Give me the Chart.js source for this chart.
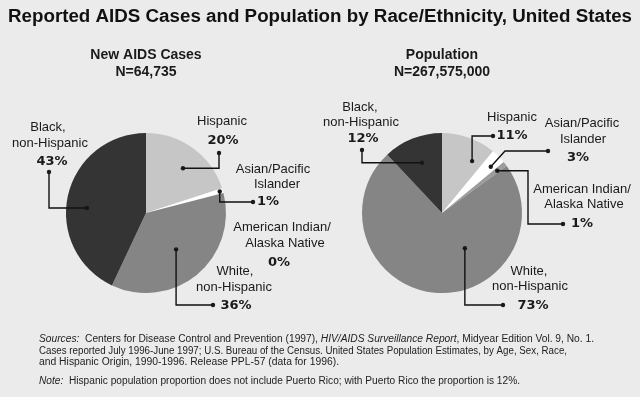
<!DOCTYPE html>
<html>
<head>
<meta charset="utf-8">
<script src="https://cdn.jsdelivr.net/npm/chart.js@4.4.1/dist/chart.umd.min.js"></script>
<style>
html, body { margin: 0; padding: 0; background: #ebebeb; }
#wrap { position: relative; width: 640px; height: 397px; overflow: hidden; }
#wrap canvas { position: absolute; left: 0; top: 0; }
</style>
</head>
<body>
<div id="wrap">
  <canvas id="casesChart" width="640" height="397"></canvas>
  <canvas id="popChart" width="640" height="397"></canvas>
</div>
<script>
// data
const groupLines = [['Hispanic'], ['Asian/Pacific', 'Islander'], ['American Indian/', 'Alaska Native'], ['White,', 'non-Hispanic'], ['Black,', 'non-Hispanic']];
const groups = groupLines.map(l => l.join(' '));
const casesPct = [20, 1, 0, 36, 43];
const popPct = [11, 3, 1, 73, 12];
const casesN = '64,735';
const popN = '267,575,000';

const casesColors = ['#c6c6c6', '#ffffff', '#9c9c9c', '#858585', '#343434'];
const popColors = ['#c6c6c6', '#ffffff', '#9c9c9c', '#858585', '#343434'];

const titleText = 'Reported AIDS Cases and Population by Race/Ethnicity, United States';
const footerLines = [
    [['Sources:', true], ['  Centers for Disease Control and Prevention (1997), ', false], ['HIV/AIDS Surveillance Report', true], [', Midyear Edition Vol. 9, No. 1.', false]],
    [['Cases reported July 1996-June 1997; U.S. Bureau of the Census. United States Population Estimates, by Age, Sex, Race,', false]],
    [['and Hispanic Origin, 1990-1996. Release PPL-57 (data for 1996).', false]],
    [['Note:', true], ['  Hispanic population proportion does not include Puerto Rico; with Puerto Rico the proportion is 12%.', false]]
];

// label placement (page pixels), leader anchors are taken from the arcs
const casesLayout = [
    { x: [222], y: [121], pct: [223, 141], t: 0.55, f: 0.725, route: [['h', 219], ['v', 153]] },
    { x: [273, 277], y: [169, 184], pct: [268, 202], t: 0.5, f: 0.96, route: [['v', 202], ['h', 253]] },
    { x: [282, 285], y: [227, 243], pct: [279, 263] },
    { x: [235, 234], y: [271, 287], pct: [236, 306], t: 0.5, f: 0.59, route: [['v', 305], ['h', 213]] },
    { x: [48, 50], y: [127, 143], pct: [52, 162], t: 0.45, f: 0.74, route: [['h', 49], ['v', 172]] }
];
const popLayout = [
    { x: [512], y: [117], pct: [512, 136], t: 0.76, f: 0.75, route: [['v', 136], ['h', 493]] },
    { x: [582, 583], y: [123, 139], pct: [578, 158], t: 0.64, f: 0.84, route: [['to', 505, 151], ['h', 548]] },
    { x: [582, 584], y: [189, 204], pct: [582, 224], t: 0.6, f: 0.87, route: [['h', 528], ['v', 224], ['h', 563]] },
    { x: [529, 530], y: [271, 286], pct: [533, 306], t: 0.354, f: 0.525, route: [['v', 305], ['h', 503]] },
    { x: [360, 361], y: [107, 122], pct: [363, 139], t: 0.5, f: 0.675, route: [['h', 362], ['v', 150]] }
];

const SANS = '"Liberation Sans", Arial, Helvetica, sans-serif';

function fillFit(ctx, text, x, y, width) {
    const s = width / ctx.measureText(text).width;
    ctx.save();
    ctx.translate(x, y);
    ctx.scale(s, 1);
    ctx.fillText(text, 0, 0);
    ctx.restore();
}

function dot(ctx, x, y) {
    ctx.beginPath();
    ctx.arc(x, y, 2.2, 0, Math.PI * 2);
    ctx.fill();
}

const pieLabels = {
    id: 'pieLabels',
    afterDatasetsDraw(chart, args, opts) {
        const ctx = chart.ctx;
        const meta = chart.getDatasetMeta(0);
        const values = chart.data.datasets[0].data;
        ctx.save();
        ctx.fillStyle = '#1a1a1a';
        ctx.strokeStyle = '#111';
        ctx.lineWidth = 1.4;
        ctx.textAlign = 'center';
        ctx.textBaseline = 'middle';

        // header above the pie
        const cx = meta.data[0].x;
        ctx.font = 'bold 14px ' + SANS;
        ctx.fillText(opts.header[0], cx, 55);
        ctx.fillText(opts.header[1], cx, 72);

        opts.layout.forEach(function(item, i) {
            ctx.font = '13px ' + SANS;
            groupLines[i].forEach(function(t, k) {
                ctx.fillText(t, item.x[k], item.y[k]);
            });
            ctx.font = 'bold 13px "DejaVu Sans", sans-serif';
            ctx.fillText(values[i] + '%', item.pct[0], item.pct[1]);
            if (!item.route) return;
            const arc = meta.data[i];
            const a = arc.startAngle + item.t * (arc.endAngle - arc.startAngle);
            let px = arc.x + Math.cos(a) * arc.outerRadius * item.f;
            let py = arc.y + Math.sin(a) * arc.outerRadius * item.f;
            dot(ctx, px, py);
            ctx.beginPath();
            ctx.moveTo(px, py);
            item.route.forEach(function(step) {
                if (step[0] === 'h') px = step[1];
                else if (step[0] === 'v') py = step[1];
                else { px = step[1]; py = step[2]; }
                ctx.lineTo(px, py);
            });
            ctx.stroke();
            dot(ctx, px, py);
        });
        ctx.restore();
    }
};

const pageText = {
    id: 'pageText',
    afterDraw(chart) {
        const ctx = chart.ctx;
        ctx.save();
        ctx.fillStyle = '#111';
        ctx.textBaseline = 'middle';
        ctx.textAlign = 'center';
        ctx.font = 'bold 18px ' + SANS;
        fillFit(ctx, titleText, 320, 17, 624);

        ctx.fillStyle = '#222';
        ctx.textAlign = 'left';
        const ys = [339, 351, 362, 381];
        const widths = [555, 528, 300, 481];
        footerLines.forEach(function(line, i) {
            let total = 0;
            line.forEach(function(seg) {
                ctx.font = (seg[1] ? 'italic ' : '') + '10px ' + SANS;
                total += ctx.measureText(seg[0]).width;
            });
            const s = widths[i] / total;
            ctx.save();
            ctx.translate(39, ys[i]);
            ctx.scale(s, 1);
            let x = 0;
            line.forEach(function(seg) {
                ctx.font = (seg[1] ? 'italic ' : '') + '10px ' + SANS;
                ctx.fillText(seg[0], x, 0);
                x += ctx.measureText(seg[0]).width;
            });
            ctx.restore();
        });
        ctx.restore();
    }
};

function makePie(id, values, colors, padding, layout, header, extraPlugins) {
    return new Chart(document.getElementById(id), {
        type: 'pie',
        data: {
            labels: groups,
            datasets: [{
                data: values,
                backgroundColor: colors,
                borderWidth: 0
            }]
        },
        options: {
            responsive: false,
            animation: false,
            events: [],
            layout: { padding: padding },
            plugins: {
                legend: { display: false },
                tooltip: { enabled: false },
                pieLabels: { layout: layout, header: header }
            }
        },
        plugins: [pieLabels].concat(extraPlugins)
    });
}

makePie('casesChart', casesPct, casesColors, { left: 66, right: 414, top: 133, bottom: 104 },
    casesLayout, ['New AIDS Cases', 'N=' + casesN], [pageText]);
makePie('popChart', popPct, popColors, { left: 362, right: 118, top: 133, bottom: 104 },
    popLayout, ['Population', 'N=' + popN], []);
</script>
</body>
</html>
